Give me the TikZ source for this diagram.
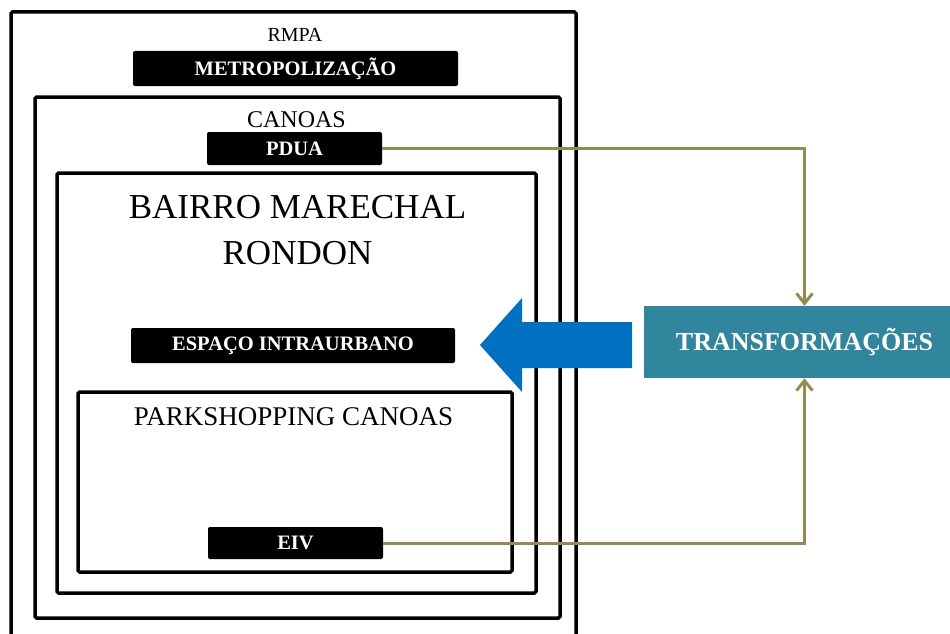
\documentclass[tikz,border=0pt]{standalone}
\usepackage{fontspec}
\setmainfont{Liberation Serif}
\usetikzlibrary{arrows.meta}
\definecolor{linkolive}{RGB}{148,138,84}
\definecolor{transteal}{RGB}{49,133,156}
\definecolor{arrowblue}{RGB}{0,112,192}

\begin{document}
\begin{tikzpicture}[x=1pt,y=-1pt,
  areabox/.style={draw=black, line width=3.5pt, rounded corners=1.5pt, inner sep=0pt},
  blacktag/.style={fill=black, text=white, rounded corners=2pt, inner sep=0pt,
    font=\fontsize{20.5}{24}\selectfont\bfseries},
  link/.style={linkolive, line width=3pt, -{Straight Barb[length=10pt,width=16pt,line width=3pt]}}]
\useasboundingbox (0,0) rectangle (950,634);
\clip (0,0) rectangle (950,634);
% Nested areas
\node[areabox, minimum width=565pt, minimum height=633pt] (rmpa) at (293.5,328.5) {};
\node[areabox, minimum width=525pt, minimum height=521pt] (canoas) at (297.5,357.5) {};
\node[areabox, minimum width=479pt, minimum height=420pt] (bairro) at (296.5,383) {};
\node[areabox, minimum width=434pt, minimum height=180pt] (park) at (295,482) {};
% Area titles
\node[font=\fontsize{20}{24}\selectfont] (rmpatxt) at (295,35) {RMPA};
\node[font=\fontsize{24}{28}\selectfont] (canoastxt) at (296.5,120) {CANOAS};
\node[anchor=north, inner sep=0pt, align=center, font=\fontsize{35}{46}\selectfont]
  (bairrotxt) at (297.5,195) {BAIRRO MARECHAL\\RONDON};
\node[font=\fontsize{27}{31}\selectfont] (parktxt) at (293.5,417) {PARKSHOPPING CANOAS};
% Black tags
\node[blacktag, minimum width=325pt, minimum height=35pt] (metro) at (295.5,68.5) {METROPOLIZAÇÃO};
\node[blacktag, minimum width=175pt, minimum height=33pt] (pdua) at (294.5,148.5) {PDUA};
\node[blacktag, minimum width=324pt, minimum height=35pt] (espaco) at (293,345.5) {ESPAÇO INTRAURBANO};
\node[blacktag, minimum width=175pt, minimum height=32pt] (eiv) at (295.5,543) {EIV};
% Transformations box
\node[fill=transteal, text=white, inner sep=0pt, minimum width=321pt, minimum height=72pt,
  font=\fontsize{26}{30}\selectfont\bfseries] (transf) at (804.5,342) {TRANSFORMAÇÕES};
% Block arrow
\fill[arrowblue] (632,322) -- (522,322) -- (522,298) -- (480,345) -- (522,392)
  -- (522,368) -- (632,368) -- cycle;
% Links
\draw[link] (pdua.east) -| (transf.north);
\draw[link] (eiv.east) -| (transf.south);
\end{tikzpicture}
\end{document}
